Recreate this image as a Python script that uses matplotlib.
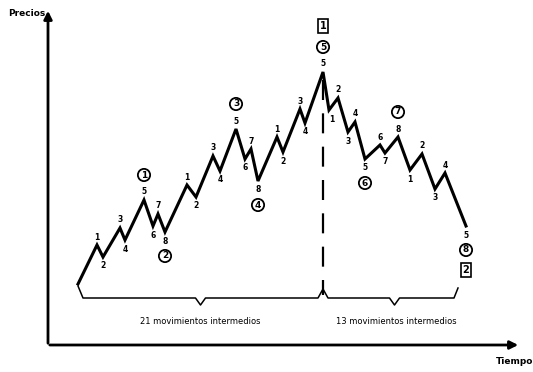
import matplotlib
matplotlib.use('Agg')
import matplotlib.pyplot as plt

# ondas: tiempo y precio de cada vertice
tiempo = [30, 49, 55, 72, 77, 96, 105, 110, 117, 139, 148, 165, 172, 188, 197, 203, 210,
          229, 235, 252, 257, 275, 281, 290, 300, 307, 317, 332, 337, 350, 362, 374, 387, 397, 418]
precio = [61, 100, 88, 117, 105, 145, 119, 131, 113, 160, 148, 189, 174, 216, 186, 196, 164,
          208, 193, 236, 222, 273, 235, 247, 213, 223, 186, 200, 192, 208, 175, 191, 156, 172, 119]
etiquetas = ['', '1', '2', '3', '4', '5', '6', '7', '8', '1', '2', '3', '4', '5', '6', '7', '8',
             '1', '2', '3', '4', '5', '1', '2', '3', '4', '5', '6', '7', '8', '1', '2', '3', '4', '5']
# ondas intermedias (indice del vertice, texto)
ondas = [(5, '1'), (8, '2'), (13, '3'), (16, '4'), (21, '5'), (26, '6'), (29, '7'), (34, '8')]
ciclos = [(21, '1'), (34, '2')]
textos = ['21 movimientos intermedios', '13 movimientos intermedios']

fig = plt.figure(figsize=(5.33, 3.72), dpi=100)
ax = fig.add_axes([0, 0, 1, 1])
ax.set_xlim(-48, 485)
ax.set_ylim(-27, 345)
ax.axis('off')

# ejes con flechas
ax.annotate('', xy=(0, 337), xytext=(0, -1),
            arrowprops=dict(arrowstyle='-|>', lw=2, color='black', mutation_scale=12))
ax.annotate('', xy=(473, 0), xytext=(-1, 0),
            arrowprops=dict(arrowstyle='-|>', lw=2, color='black', mutation_scale=12))
ax.text(-40, 331, 'Precios', fontsize=6.5, fontweight='bold', ha='left', va='center')
ax.text(485, -16, 'Tiempo', fontsize=6.5, fontweight='bold', ha='right', va='center')

ax.plot(tiempo, precio, color='black', lw=2.2, solid_joinstyle='miter')

n = len(precio)
for i in range(1, n):
    arriba = i < n - 1 and precio[i] > precio[i - 1] and precio[i] > precio[i + 1]
    dy = 8 if arriba else -9
    dx = 3 if i == 22 else 0
    ax.annotate(etiquetas[i], (tiempo[i], precio[i]), xytext=(dx, dy), textcoords='offset pixels',
                ha='center', va='center', fontsize=5.5, fontweight='bold')

for i, s in ondas:
    arriba = i < n - 1 and precio[i] > precio[i + 1]
    dy = 25 if arriba else -24
    ax.annotate(s, (tiempo[i], precio[i]), xytext=(0, dy), textcoords='offset pixels',
                ha='center', va='center', fontsize=6.5, fontweight='bold',
                bbox=dict(boxstyle='circle,pad=0.18', fc='white', ec='black', lw=1.3))

for i, s in ciclos:
    dy = 46 if i == 21 else -44
    ax.annotate(s, (tiempo[i], precio[i]), xytext=(0, dy), textcoords='offset pixels',
                ha='center', va='center', fontsize=7, fontweight='bold',
                bbox=dict(boxstyle='square,pad=0.2', fc='white', ec='black', lw=1.2))

# linea discontinua bajo el maximo
pico = precio.index(max(precio))
ax.plot([tiempo[pico], tiempo[pico]], [precio[pico] - 8, 50], color='black', lw=1.6,
        dashes=(9, 6))

# llaves
t0, t1 = tiempo[0], tiempo[-1]
tp = tiempo[pico]
yb = 47
ax.plot([t0, t0 + 5, (t0 + tp) / 2 - 5, (t0 + tp) / 2, (t0 + tp) / 2 + 5, tp - 5, tp,
         tp + 5, (tp + t1) / 2 - 5, (tp + t1) / 2, (tp + t1) / 2 + 5, t1 - 12, t1 - 8],
        [yb + 12, yb, yb, yb - 7, yb, yb, yb + 9, yb, yb, yb - 7, yb, yb, yb + 10],
        color='black', lw=1.1)
ax.text((t0 + tp) / 2, yb - 24, textos[0], fontsize=6, ha='center', va='center')
ax.text((tp + t1) / 2 + 2, yb - 24, textos[1], fontsize=6, ha='center', va='center')

fig.savefig('out.png', dpi=100)
